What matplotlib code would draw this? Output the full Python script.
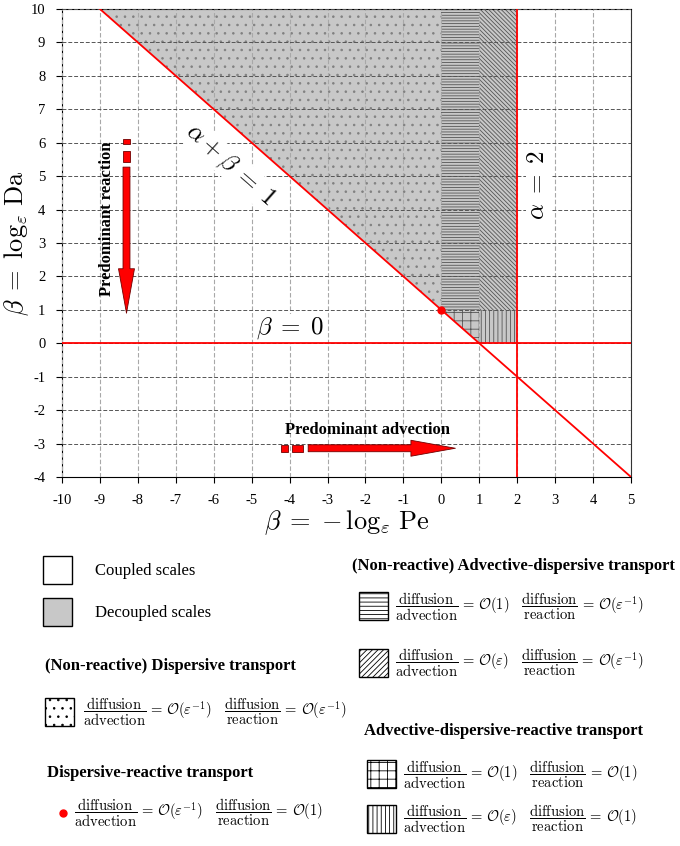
import numpy as np
import matplotlib
matplotlib.use("Agg")
import matplotlib.pyplot as plt
from matplotlib.patches import Polygon, Rectangle

plt.rcParams['font.family'] = ['Liberation Serif', 'DejaVu Serif']
plt.rcParams['mathtext.fontset'] = 'cm'
plt.rcParams['axes.unicode_minus'] = False
plt.rcParams['hatch.linewidth'] = 0.6

# ejes
x_ticks = list(range(-10, 6))
y_ticks = list(range(-4, 11))

# fronteras del diagrama
sum_line = 1       # alpha + beta = 1
alpha_line = 2     # alpha = 2
beta_line = 0      # beta = 0
point_dr = (0, 1)  # dispersive-reactive

# regiones desacopladas (vertices)
dispersive_xy = [(-9, 10), (0, 1), (0, 10)]
adv_disp_1_xy = [(0, 1), (1, 1), (1, 10), (0, 10)]
adv_disp_eps_xy = [(1, 1), (2, 1), (2, 10), (1, 10)]
adr_1_xy = [(0, 1), (1, 0), (1, 1)]
adr_eps_xy = [(1, 0), (2, 0), (2, 1), (1, 1)]

# flechas
reaction_x = -8.3
reaction_dash_y = [(5.96, 6.11), (5.42, 5.75)]
reaction_y = (5.27, 0.9)
advection_y = -3.14
advection_dash_x = [(-4.22, -4.03), (-3.93, -3.64)]
advection_x = (-3.51, 0.37)

# leyenda
legend_titles = ["(Non-reactive) Dispersive transport",
                 "Dispersive-reactive transport",
                 "(Non-reactive) Advective-dispersive transport",
                 "Advective-dispersive-reactive transport"]
scale_labels = ["Coupled scales", "Decoupled scales"]
orders = {"eps-1": r"\mathcal{O}(\varepsilon^{-1})", "1": r"\mathcal{O}(1)",
          "eps": r"\mathcal{O}(\varepsilon)"}


def formula(adv, rea):
    return (r"$\dfrac{\mathrm{diffusion}}{\mathrm{advection}}\,=\," + orders[adv] +
            r"\quad\dfrac{\mathrm{diffusion}}{\mathrm{reaction}}\,=\," + orders[rea] + "$")


GRAY = '#c8c8c8'
RED = '#ff0000'

fig = plt.figure(figsize=(6.8, 8.46), dpi=100)
ax = fig.add_axes([62/680, 1-477/846, (631-62)/680, (477-9)/846])
ax.set_xlim(-10, 5)
ax.set_ylim(-4, 10)

# regiones
hatch_ec = '#555555'
ax.add_patch(Polygon(dispersive_xy, closed=True, fc=GRAY, ec='#808080', lw=0, hatch='..', zorder=1))
ax.add_patch(Polygon(adv_disp_1_xy, closed=True, fc=GRAY, ec=hatch_ec, lw=0, hatch='------', zorder=1))
ax.add_patch(Polygon(adv_disp_eps_xy, closed=True, fc=GRAY, ec=hatch_ec, lw=0, hatch='\\\\\\\\\\\\\\\\', zorder=1))
ax.add_patch(Polygon(adr_1_xy, closed=True, fc=GRAY, ec=hatch_ec, lw=0, hatch='++', zorder=1))
ax.add_patch(Polygon(adr_eps_xy, closed=True, fc=GRAY, ec=hatch_ec, lw=0, hatch='||||', zorder=1))

# rejilla
ax.set_xticks(x_ticks)
ax.set_yticks(y_ticks)
ax.xaxis.grid(True, color='#a8a8a8', linestyle=(0, (4, 2)), lw=0.8)
ax.yaxis.grid(True, color='#555555', linestyle=(0, (4, 2)), lw=0.7)
ax.set_axisbelow(False)
ax.tick_params(direction='out', length=4, labelsize=10.5, pad=8)
ax.spines['right'].set_color('#333333')

# lineas rojas
xs = np.array([-10, 5])
ax.plot(xs, sum_line - xs, color=RED, lw=1.3, zorder=5)
ax.axhline(beta_line, color=RED, lw=1.3, zorder=5)
ax.axvline(alpha_line, color=RED, lw=1.3, zorder=5)
ax.plot(*point_dr, 'o', color=RED, ms=5, zorder=6)

box = dict(fc='white', ec='none', pad=1)
ax.text(-5.57, 5.33, r'$\alpha+\beta\;=\;1$', fontsize=18, rotation=-41.4,
        ha='center', va='center', bbox=box, zorder=4)
ax.text(-3.98, 0.45, r'$\beta\;=\;0$', fontsize=18, ha='center', va='center',
        bbox=box, zorder=4)
ax.text(2.56, 4.73, r'$\alpha\;=\;2$', fontsize=18, rotation=90, ha='center',
        va='center', bbox=box, zorder=4)

# flechas
arrow_style = dict(arrowstyle='simple,head_width=1.15,head_length=3.2,tail_width=0.5',
                   fc=RED, ec='#700000', lw=0.6, shrinkA=0, shrinkB=0)
ax.annotate('', xy=(reaction_x, reaction_y[1]), xytext=(reaction_x, reaction_y[0]),
            arrowprops=arrow_style, zorder=6)
wv = 7/37.9
for y0, y1 in reaction_dash_y:
    ax.add_patch(Rectangle((reaction_x - wv/2, y0), wv, y1 - y0, fc=RED, ec='#700000', lw=0.6, zorder=6))
ax.annotate('', xy=(advection_x[1], advection_y), xytext=(advection_x[0], advection_y),
            arrowprops=arrow_style, zorder=6)
wh = 7/33.4
for x0, x1 in advection_dash_x:
    ax.add_patch(Rectangle((x0, advection_y - wh/2), x1 - x0, wh, fc=RED, ec='#700000', lw=0.6, zorder=6))

ax.text(-8.81, 3.74, 'Predominant reaction', rotation=90, fontsize=12,
        fontweight='bold', ha='center', va='center', zorder=6)
ax.text(-1.95, -2.6, 'Predominant advection', fontsize=12,
        fontweight='bold', ha='center', va='center', zorder=6)

ax.set_ylabel(r'$\beta\;=\;\log_{\varepsilon}\,\mathrm{Da}$', fontsize=19, labelpad=0)
ax.set_xlabel(r'$\beta\;=\;{-}\,\log_{\varepsilon}\,\mathrm{Pe}$', fontsize=19, labelpad=1)

# leyenda en coordenadas de pixel
lax = fig.add_axes([0, 0, 1, 1])
lax.set_xlim(0, 680)
lax.set_ylim(846, 0)
lax.axis('off')
lax.patch.set_alpha(0)


def square(x, y, fc='white', hatch=None):
    lax.add_patch(Rectangle((x, y), 29, 28, fc=fc, ec='black', lw=1.0, hatch=hatch))


fs_f = 10.5
square(43, 556)
lax.text(95, 571, scale_labels[0], fontsize=12, va='center')
square(43, 598, fc=GRAY)
lax.text(95, 613, scale_labels[1], fontsize=12, va='center')

lax.text(45, 666, legend_titles[0], fontsize=12, fontweight='bold', va='center')
square(45, 698, hatch='..')
lax.text(83, 712, formula("eps-1", "eps-1"), fontsize=fs_f, va='center')

lax.text(47, 773, legend_titles[1], fontsize=12, fontweight='bold', va='center')
lax.plot(63, 813, 'o', color=RED, ms=5)
lax.text(74, 813, formula("eps-1", "1"), fontsize=fs_f, va='center')

lax.text(352, 566, legend_titles[2], fontsize=12, fontweight='bold', va='center')
square(359, 592, hatch='----')
lax.text(395, 607, formula("1", "eps-1"), fontsize=fs_f, va='center')
square(359, 649, hatch='//////')
lax.text(395, 663, formula("eps", "eps-1"), fontsize=fs_f, va='center')

lax.text(364, 731, legend_titles[3], fontsize=12, fontweight='bold', va='center')
square(367, 760, hatch='++')
lax.text(403, 775, formula("1", "1"), fontsize=fs_f, va='center')
square(367, 805, hatch='||||')
lax.text(403, 819, formula("eps", "1"), fontsize=fs_f, va='center')

fig.savefig('out.png', dpi=100)
